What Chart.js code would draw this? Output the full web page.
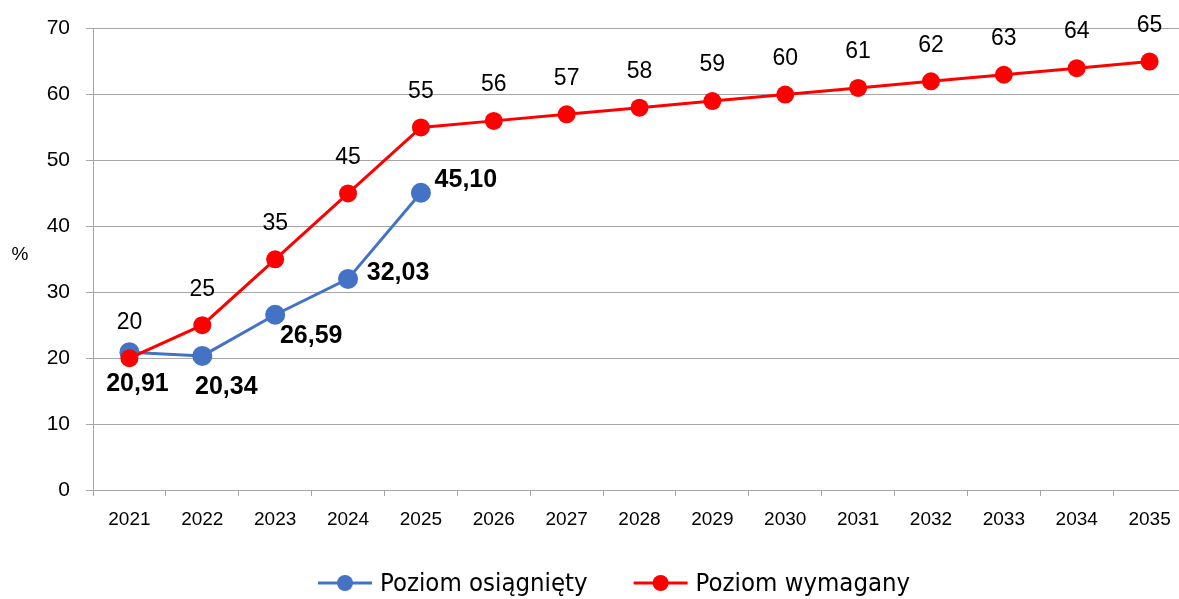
<!DOCTYPE html>
<html>
<head>
<meta charset="utf-8">
<script src="https://cdn.jsdelivr.net/npm/chart.js@4.4.1/dist/chart.umd.min.js"></script>
<style>
    html, body { margin: 0; padding: 0; background: #fff; overflow: hidden; }
    #wrap { width: 1179px; height: 599px; overflow: hidden; }
    #wrap canvas { display: block; }
</style>
</head>
<body>
<div id="wrap"><canvas id="chart" width="1196" height="599"></canvas></div>
<script>
// ================================================================
//  DATOS
// ================================================================
const lata = ['2021', '2022', '2023', '2024', '2025', '2026', '2027', '2028',
              '2029', '2030', '2031', '2032', '2033', '2034', '2035'];
const poziomOsiagniety = [20.91, 20.34, 26.59, 32.03, 45.10,
                          null, null, null, null, null, null, null, null, null, null];
const poziomWymagany = [20, 25, 35, 45, 55, 56, 57, 58, 59, 60, 61, 62, 63, 64, 65];
const osY = { min: 0, max: 70, krok: 10 };

const SZARY = '#a6a6a6';
const NIEBIESKI = '#4472c4';
const CZERWONY = '#ff0000';
const FONT = "'Liberation Sans', Arial, sans-serif";
const FONT_LEGENDA = "'Liberation Sans Narrow', 'Arial Narrow', 'DejaVu Sans Condensed', sans-serif";

// przesunięcia etykiet względem punktów (dx, dy)
const przesuniecia = {
    osiagniety: [[8, 32], [24, 31], [36, 21], [50, -6], [45, -13]],
    wymagany: [0, -36]
};

// ================================================================
//  PLUGINY
// ================================================================
const etykietyPlugin = {
    id: 'etykiety',
    afterDatasetsDraw(chart) {
        const ctx = chart.ctx;
        ctx.save();
        ctx.textAlign = 'center';
        ctx.textBaseline = 'middle';
        ctx.fillStyle = '#000';
        chart.data.datasets.forEach((ds, di) => {
            const meta = chart.getDatasetMeta(di);
            meta.data.forEach((pt, i) => {
                const v = ds.data[i];
                if (v === null || v === undefined) return;
                let txt, dx, dy;
                if (ds.klucz === 'osiagniety') {
                    ctx.font = 'bold 25px ' + FONT;
                    txt = v.toFixed(2).replace('.', ',');
                    [dx, dy] = przesuniecia.osiagniety[i];
                } else {
                    ctx.font = '23px ' + FONT;
                    txt = String(v);
                    [dx, dy] = przesuniecia.wymagany;
                }
                ctx.fillText(txt, pt.x + dx, pt.y + dy);
            });
        });
        ctx.restore();
    }
};

const legendaPlugin = {
    id: 'legenda',
    afterDraw(chart) {
        const ctx = chart.ctx;
        const y = 583;
        let x = 318;
        ctx.save();
        ctx.font = '25.5px ' + FONT_LEGENDA;
        ctx.textBaseline = 'middle';
        ctx.textAlign = 'left';
        chart.data.datasets.forEach(ds => {
            ctx.strokeStyle = ds.borderColor;
            ctx.lineWidth = 3;
            ctx.beginPath();
            ctx.moveTo(x, y);
            ctx.lineTo(x + 54, y);
            ctx.stroke();
            ctx.fillStyle = ds.backgroundColor;
            ctx.beginPath();
            ctx.arc(x + 27, y, 8, 0, Math.PI * 2);
            ctx.fill();
            ctx.fillStyle = '#000';
            ctx.fillText(ds.label, x + 62, y + 1);
            x += 62 + ctx.measureText(ds.label).width + 46;
        });
        // opis osi Y
        ctx.font = '19px ' + FONT;
        ctx.textAlign = 'center';
        ctx.fillText('%', 20, 255);
        ctx.restore();
    }
};

// ================================================================
//  WYKRES
// ================================================================
new Chart(document.getElementById('chart').getContext('2d'), {
    type: 'line',
    data: {
        labels: lata,
        datasets: [{
            klucz: 'osiagniety',
            label: 'Poziom osiągnięty',
            data: poziomOsiagniety,
            borderColor: NIEBIESKI,
            backgroundColor: NIEBIESKI,
            borderWidth: 3,
            pointRadius: 10,
            pointHoverRadius: 10,
            pointBorderWidth: 0,
            tension: 0,
            order: 1
        }, {
            klucz: 'wymagany',
            label: 'Poziom wymagany',
            data: poziomWymagany,
            borderColor: CZERWONY,
            backgroundColor: CZERWONY,
            borderWidth: 3,
            pointRadius: 9,
            pointHoverRadius: 9,
            pointBorderWidth: 0,
            tension: 0,
            order: 0
        }]
    },
    options: {
        responsive: false,
        animation: false,
        devicePixelRatio: 1,
        layout: { padding: { left: 0, top: 23, right: 4, bottom: 0 } },
        plugins: {
            legend: { display: false },
            tooltip: { enabled: false }
        },
        scales: {
            y: {
                min: osY.min,
                max: osY.max,
                afterFit: s => { s.width = 93; },
                ticks: { stepSize: osY.krok, color: '#000', padding: 16, font: { family: FONT, size: 21 } },
                grid: { color: SZARY, lineWidth: 1, tickLength: 7 },
                border: { color: SZARY, width: 1 }
            },
            x: {
                offset: true,
                afterFit: s => { s.height = 109; },
                ticks: { color: '#000', padding: 12, maxRotation: 0, autoSkip: false, font: { family: FONT, size: 19 } },
                grid: { offset: true, drawOnChartArea: false, color: SZARY, tickLength: 6 },
                border: { color: SZARY, width: 1 }
            }
        }
    },
    plugins: [etykietyPlugin, legendaPlugin]
});
</script>
</body>
</html>
